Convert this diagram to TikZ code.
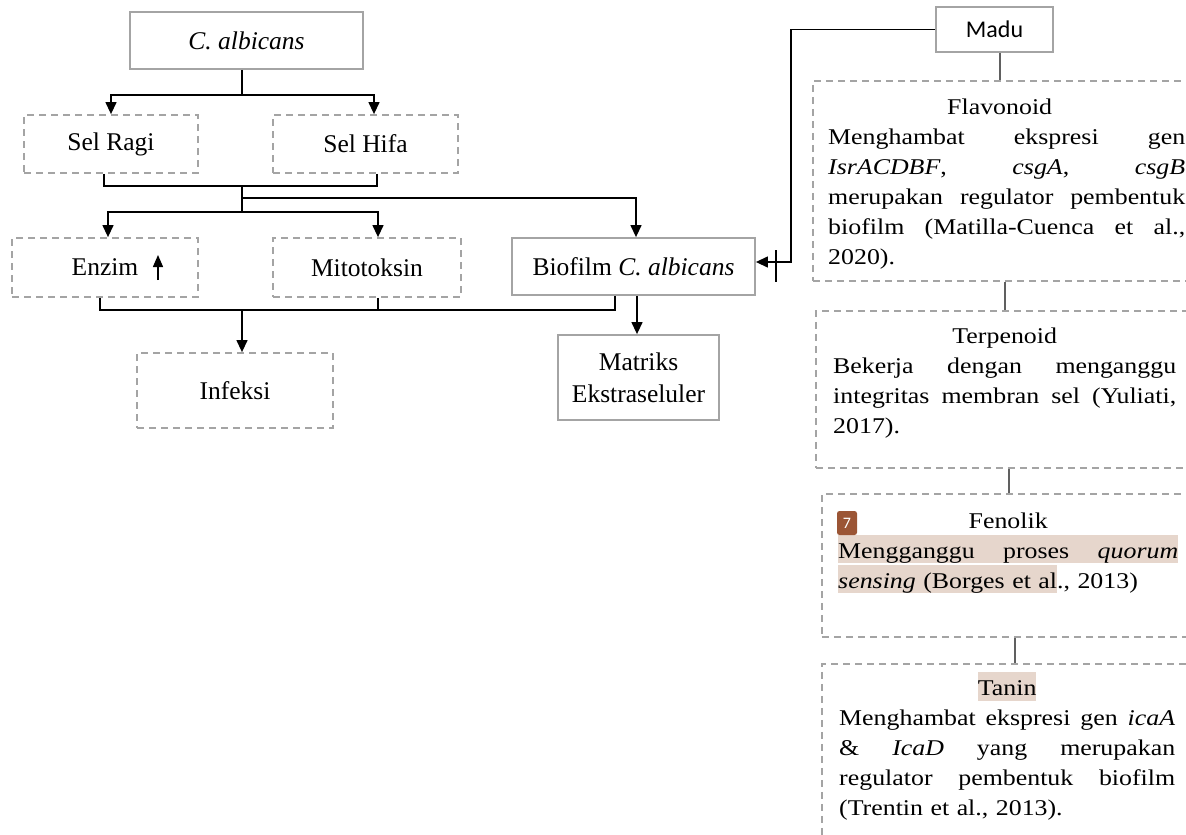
\documentclass[tikz,border=0pt]{standalone}
\usepackage{fontspec}
\setmainfont{Liberation Serif}
\newfontfamily\rfont[FakeStretch=1.15]{Liberation Serif}
\newfontfamily\sfont{Carlito}
\usetikzlibrary{arrows.meta}
\definecolor{bordergray}{HTML}{A4A4A4}
\definecolor{hlc}{HTML}{E6D6CC}
\definecolor{badgec}{HTML}{9B5535}
\definecolor{rline}{HTML}{606060}
\setlength{\fboxsep}{0pt}
\newcommand{\jst}{\leftskip=0pt\rightskip=0pt\parfillskip=0pt plus 1fil\relax}
\newcommand{\ctr}{\leftskip=0pt plus 1fil\rightskip=0pt plus 1fil\parfillskip=0pt\relax}
\newcommand{\JL}[1]{\hbox to \linewidth{#1}}
\begin{document}
\begin{tikzpicture}[x=1pt,y=-1pt,
  solidbox/.style={draw=bordergray, line width=1.8pt, rectangle, inner sep=0pt,
    font=\fontsize{25.5}{30}\selectfont, align=center},
  dashbox/.style={solidbox, dash pattern=on 7pt off 5pt},
  conn/.style={draw=black, line width=1.3pt},
  arr/.style={conn, -{Triangle[width=11pt,length=12pt]}},
  rconn/.style={draw=rline, line width=1.2pt},
  rtext/.style={anchor=base west, inner sep=0pt, font=\rfont\fontsize{22.5}{30}\selectfont},
]
\useasboundingbox (0,0) rectangle (1186,835);
\clip (0,0) rectangle (1186,835);

% left boxes
\node[solidbox, minimum width=233pt, minimum height=57pt] (calb) at (246.5,40.5) {\textit{C. albicans}};
\node[dashbox, minimum width=174pt, minimum height=58pt] (ragi) at (111,144) {Sel Ragi};
\node[dashbox, minimum width=185pt, minimum height=58pt] (hifa) at (365.5,144) {Sel Hifa};
\node[dashbox, minimum width=186pt, minimum height=59pt] (enzim) at (105,267.5) {Enzim};
\node[dashbox, minimum width=188pt, minimum height=59pt] (mito) at (367,267.5) {Mitotoksin};
\node[solidbox, minimum width=243pt, minimum height=57pt] (bio) at (633.5,266.5) {Biofilm \textit{C. albicans}};
\node[dashbox, minimum width=196pt, minimum height=75pt] (infeksi) at (235,390.5) {Infeksi};
\node[solidbox, minimum width=161pt, minimum height=85pt, font=\fontsize{25.5}{32}\selectfont] (matriks) at (638.5,377.5) {Matriks\\Ekstraseluler};
\node[solidbox, minimum width=117pt, minimum height=45pt, font=\sfont\fontsize{24}{28}\selectfont] (madu) at (994.5,29.5) {Madu};

% right boxes
\node[dashbox, minimum width=420pt, minimum height=200pt, anchor=north west] (flav) at (812,80) {};
\node[dashbox, minimum width=420pt, minimum height=157pt, anchor=north west] (terp) at (815,310) {};
\node[dashbox, minimum width=420pt, minimum height=143pt, anchor=north west] (feno) at (821,493) {};
\node[dashbox, minimum width=420pt, minimum height=220pt, anchor=north west] (tanin) at (821,663) {};

\node[rtext, text width=357pt] (flavt) at (828,114) {\ctr Flavonoid\hspace*{14pt}\par\jst
\JL{Menghambat\hfill ekspresi\hfill gen}
\JL{\textit{IsrACDBF},\hfill \textit{csgA},\hfill \textit{csgB}}
\JL{merupakan\hfill regulator\hfill pembentuk}
\JL{biofilm\hfill (Matilla-Cuenca\hfill et\hfill al.,}
2020).};
\node[rtext, text width=343pt] (terpt) at (833,343) {\ctr Terpenoid\par\jst
\JL{Bekerja\hfill dengan\hfill menganggu}
\JL{integritas\hfill membran\hfill sel\hfill (Yuliati,}
2017).};
\node[rtext, text width=340pt] (fenot) at (838,528) {\ctr Fenolik\par\jst
\leavevmode\colorbox{hlc}{\rule[-5pt]{0pt}{28pt}\JL{Mengganggu\hfill proses\hfill \textit{quorum}}}\par
\leavevmode\colorbox{hlc}{\rule[-5pt]{0pt}{28pt}\textit{sensing} (Borges et al}., 2013)};
\node[rtext, text width=336pt] (tanint) at (839,695) {\ctr\leavevmode\colorbox{hlc}{\rule[-6pt]{0pt}{29pt}Tanin}\par\jst
\JL{Menghambat\hfill ekspresi\hfill gen\hfill \textit{icaA}}
\JL{\&\hfill \textit{IcaD}\hfill yang\hfill merupakan}
\JL{regulator\hfill pembentuk\hfill biofilm}
(Trentin et al., 2013).};
\node[fill=badgec, rounded corners=2.5pt, minimum width=20pt, minimum height=24pt, inner sep=0pt, text=white, font=\sfont\fontsize{16}{16}\selectfont] (badge) at (847,523) {7};

% coordinates
\coordinate (j1) at (242,95);
\coordinate (j2) at (242,186);
\coordinate (jb) at (242,198);
\coordinate (j3) at (242,212);
\coordinate (j4) at (242,310);
\coordinate (xh) at (374,0);
\coordinate (xr) at (104,0);
\coordinate (xhb) at (377,0);
\coordinate (xbt) at (636,0);
\coordinate (xe) at (108,0);
\coordinate (xm) at (378,0);
\coordinate (xeb) at (100,0);
\coordinate (xbb) at (615,0);
\coordinate (xmt) at (637,0);
\coordinate (mc) at (791,262);
\coordinate (bar1) at (776,250);
\coordinate (bar2) at (776,282);
\coordinate (ea1) at (158,280);
\coordinate (ea2) at (158,255);
\coordinate (r1) at (1000,0);
\coordinate (r2) at (1005,0);
\coordinate (r3) at (1009,0);
\coordinate (r4) at (1015,0);

% left connectors
\draw[conn] (calb.south -| j1) -- (j1);
\draw[arr] (j1) -| (ragi.north);
\draw[arr] (j1) -| (hifa.north -| xh);
\draw[conn] (ragi.south -| xr) |- (j2);
\draw[conn] (hifa.south -| xhb) |- (j2);
\draw[conn] (j2) -- (j3);
\draw[arr] (jb) -| (bio.north -| xbt);
\draw[arr] (j3) -| (enzim.north -| xe);
\draw[arr] (j3) -| (mito.north -| xm);
\draw[conn] (enzim.south -| xeb) |- (j4);
\draw[conn] (mito.south -| xm) |- (j4);
\draw[conn] (bio.south -| xbb) |- (j4);
\draw[arr] (j4) -- (infeksi.north -| j4);
\draw[arr] (bio.south -| xmt) -- (matriks.north -| xmt);
\draw[conn, line width=1.4pt, -{Triangle[width=10pt,length=12pt]}] (ea1) -- (ea2);

% madu connectors
\draw[arr] (madu.west) -| (mc) -- (bio.east |- mc);
\draw[conn] (bar1) -- (bar2);
\draw[rconn] (madu.south -| r1) -- (flav.north -| r1);
\draw[rconn] (flav.south -| r2) -- (terp.north -| r2);
\draw[rconn] (terp.south -| r3) -- (feno.north -| r3);
\draw[rconn] (feno.south -| r4) -- (tanin.north -| r4);
\end{tikzpicture}
\end{document}
